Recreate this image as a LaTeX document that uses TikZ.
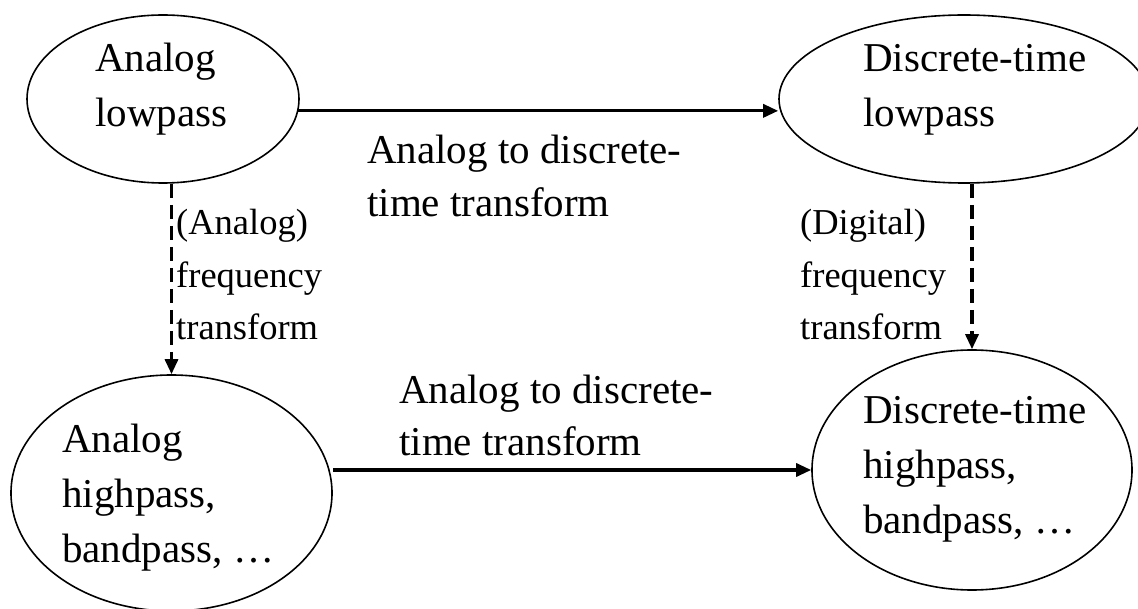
\documentclass[tikz,border=0pt]{standalone}
\usepackage{fontspec}
\setmainfont{Liberation Serif}
\usetikzlibrary{shapes.geometric,arrows.meta}
\tikzset{
  oval/.style={draw, ellipse, line width=1.6pt, inner sep=0pt},
  bigtxt/.style={anchor=base west, align=left, inner sep=0pt, font=\fontsize{41}{55}\selectfont},
  midtxt/.style={anchor=base west, align=left, inner sep=0pt, font=\fontsize{41}{53}\selectfont},
  smalltxt/.style={anchor=base west, align=left, inner sep=0pt, font=\fontsize{36.5}{52.5}\selectfont},
  solidarrow/.style={line width=3.2pt, -{Triangle[length=15pt,width=13pt]}},
  dasharrow/.style={line width=3.2pt, dash pattern=on 14pt off 7pt, -{Triangle[length=15pt,width=13pt]}}
}
\begin{document}
\begin{tikzpicture}[x=1pt,y=-1pt]
\useasboundingbox (0,0) rectangle (1138,609);
\clip (0,0) rectangle (1138,609);
% ellipses
\node[oval, minimum width=272pt, minimum height=168pt] (tl) at (163,99) {};
\node[oval, minimum width=370pt, minimum height=168pt] (tr) at (964,99) {};
\node[oval, minimum width=321pt, minimum height=236pt] (bl) at (171.5,493) {};
\node[oval, minimum width=320pt, minimum height=240pt] (br) at (972,470) {};
% ellipse texts (anchored at the baseline of the last line)
\node[bigtxt] (tltext) at (95,127) {Analog\\lowpass};
\node[bigtxt] (trtext) at (863,127) {Discrete-time\\lowpass};
\node[bigtxt] (bltext) at (62,562) {Analog\\highpass,\\bandpass, …};
\node[bigtxt] (brtext) at (863,533) {Discrete-time\\highpass,\\bandpass, …};
% connector labels
\node[midtxt] (toplab) at (367,217) {Analog to discrete-\\time transform};
\node[midtxt] (botlab) at (399,456) {Analog to discrete-\\time transform};
\node[smalltxt] (leftlab) at (176,340) {(Analog)\\frequency\\transform};
\node[smalltxt] (rightlab) at (800,340) {(Digital)\\frequency\\transform};
% connectors
\draw[solidarrow] (tl.-5) -- (tl.-5 -| tr.west);
\draw[solidarrow] (br.west -| bl.east) -- (br.west);
\draw[dasharrow] (bl.north |- tl.south) -- (bl.north);
\draw[dasharrow] (br.north |- tr.south) -- (br.north);
\end{tikzpicture}
\end{document}
